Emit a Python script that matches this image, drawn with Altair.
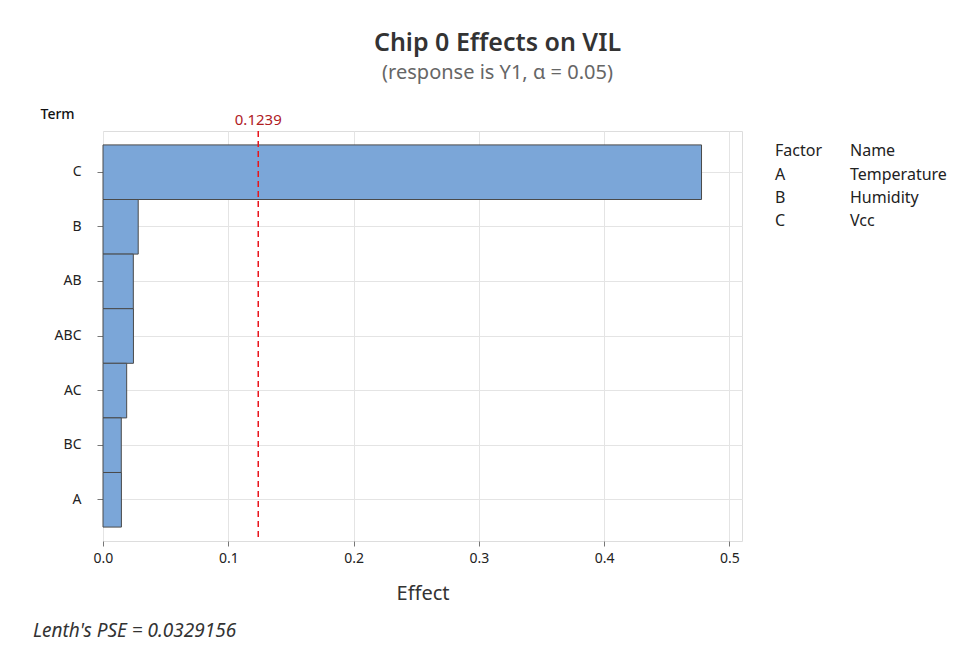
import altair as alt
import pandas as pd

terms = ["C", "B", "AB", "ABC", "AC", "BC", "A"]
effects = [0.4777, 0.0281, 0.0242, 0.0243, 0.0189, 0.0146, 0.0147]
critical = 0.1239
factors = ["Factor", "A", "B", "C"]
names = ["Name", "Temperature", "Humidity", "Vcc"]
pse_text = "Lenth's PSE = 0.0329156"
x_ticks = [0.0, 0.1, 0.2, 0.3, 0.4, 0.5]

FONT = "Noto Sans"
df = pd.DataFrame({"Term": terms, "Effect": effects})
ref = pd.DataFrame({"v": [critical], "label": [f"{critical}"]})

W, H = 639, 410

bars = alt.Chart(df).mark_bar(
    color="#7ba6d8", stroke="#4a4a4a", strokeWidth=1
).encode(
    x=alt.X("Effect:Q",
            scale=alt.Scale(domain=[0, 0.51], nice=False, zero=True),
            axis=alt.Axis(values=x_ticks, format=".1f", title="Effect",
                          grid=True, gridColor="#e4e4e4", domain=False,
                          tickColor="#777", tickSize=5, labelFontSize=14,
                          labelColor="#222", labelFont=FONT, labelPadding=5,
                          labelFlush=False,
                          titleFont=FONT, titleFontSize=20, titleFontWeight="normal",
                          titleColor="#333", titlePadding=18)),
    y=alt.Y("Term:N", sort=None,
            scale=alt.Scale(paddingInner=0, paddingOuter=0.255),
            axis=alt.Axis(title="Term", titleAngle=0, titleX=-63, titleY=-17,
                          titleAlign="left", titleBaseline="middle",
                          titleFont=FONT, titleFontSize=14, titleFontWeight=500,
                          titleColor="#111",
                          grid=True, gridColor="#e4e4e4", domain=False,
                          tickColor="#777", tickSize=6, labelFontSize=14,
                          labelFont=FONT, labelColor="#222", labelPadding=16)),
)

rule = alt.Chart(ref).mark_rule(color="#e8141c", strokeDash=[6, 4], strokeWidth=1.5).encode(
    x="v:Q"
)
rule_label = alt.Chart(ref).mark_text(
    color="#b0201f", font=FONT, fontSize=15, baseline="bottom", dy=-3
).encode(x="v:Q", y=alt.value(0), text="label:N")

legend_layers = []
row_y = [20, 44, 67, 90]
for i in range(len(factors)):
    d = pd.DataFrame({"f": [factors[i]], "n": [names[i]]})
    legend_layers.append(alt.Chart(d).mark_text(
        align="left", baseline="middle", font=FONT, fontSize=16, color="#222"
    ).encode(x=alt.value(672), y=alt.value(row_y[i]), text="f:N"))
    legend_layers.append(alt.Chart(d).mark_text(
        align="left", baseline="middle", font=FONT, fontSize=16, color="#222"
    ).encode(x=alt.value(747), y=alt.value(row_y[i]), text="n:N"))

pse = alt.Chart(pd.DataFrame({"t": [pse_text]})).mark_text(
    align="left", baseline="middle", font=FONT, fontSize=19, fontStyle="italic", color="#333"
).encode(x=alt.value(-70), y=alt.value(500), text="t:N")

chart = alt.layer(bars, rule, rule_label, pse, *legend_layers).properties(
    width=W, height=H,
    title=alt.TitleParams(
        text="Chip 0 Effects on VIL",
        subtitle="(response is Y1, α = 0.05)",
        anchor="middle", dx=75, offset=24,
        font=FONT, fontSize=25, fontWeight=600, color="#333",
        subtitleFont=FONT, subtitleFontSize=20, subtitleColor="#666",
        subtitlePadding=7,
    ),
    autosize=alt.AutoSizeParams(type="none"),
    padding={"left": 95, "top": 123, "right": 220, "bottom": 105},
).configure_view(stroke="#9a9a9a", strokeWidth=1).configure(background="white")

chart.save("out.html", embed_options={"renderer": "svg", "actions": False})
